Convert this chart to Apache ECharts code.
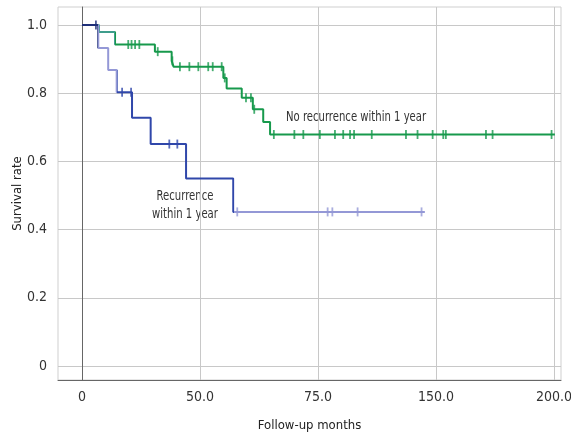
<!DOCTYPE html>
<html>
<head>
<meta charset="utf-8">
<script src="https://cdn.jsdelivr.net/npm/echarts@6/dist/echarts.min.js"></script>
<style>
html,body{margin:0;padding:0;background:#fff;}
#c{width:571px;height:436px;}
</style>
</head>
<body>
<div id="c"></div>
<script>
// ---- data ----
const xTickValues = [0, 50, 100, 150, 200];
const xTickLabels = ['0', '50.0', '75.0', '150.0', '200.0'];
const yTickValues = [0, 0.2, 0.4, 0.6, 0.8, 1.0];
const yTickLabels = ['0', '0.2', '0.4', '0.6', '0.8', '1.0'];

// No recurrence within 1 year (Kaplan-Meier steps)
const noRecTimes = [0, 7.2, 14.0, 30.9, 38.0, 38.8, 59.9, 61.3, 67.7, 72.4, 76.8, 79.7];
const noRecSurv  = [1.0, 0.98, 0.943, 0.922, 0.895, 0.878, 0.845, 0.814, 0.787, 0.753, 0.716, 0.679];
const noRecEnd = 200.4;
const noRecCensor = [19.6, 21.0, 22.5, 24.3, 32.1, 38.3, 41.5, 45.5, 49.3, 53.5, 55.4, 59.2, 60.5,
  69.5, 71.6, 73.0, 81.3, 90.0, 93.8, 100.8, 107.2, 110.7, 113.6, 115.3, 122.8,
  137.3, 142.2, 148.6, 153.1, 154.2, 171.2, 174.0, 199.0];

// Recurrence within 1 year
const recTimes = [0, 6.9, 11.1, 14.7, 21.2, 29.1, 44.1, 64.1];
const recSurv  = [1.0, 0.933, 0.868, 0.803, 0.728, 0.651, 0.55, 0.452];
const recEnd = 145.3;
const recCensor = [5.9, 17.0, 20.8, 37.0, 40.4, 65.8, 104.1, 106.1, 116.8, 143.9];

// ---- helpers ----
function stepData(times, surv, end) {
  const d = times.map((t, i) => [t, surv[i]]);
  d.push([end, surv[surv.length - 1]]);
  return d;
}
function survAt(times, surv, t) {
  let s = surv[0];
  for (let i = 0; i < times.length; i++) if (times[i] <= t) s = surv[i];
  return s;
}
function censorData(times, surv, cens) {
  return cens.map(t => [t, survAt(times, surv, t)]);
}
function labelFor(vals, labels, v) {
  for (let i = 0; i < vals.length; i++) if (Math.abs(vals[i] - v) < 1e-6) return labels[i];
  return '';
}

const FONT = "'DejaVu Sans Condensed', 'Liberation Sans', sans-serif";
const GREEN = '#17994c', TEAL = '#3f9d8c';
const NAVY = '#1f2f78', MBLUE = '#3047aa', LAV = '#9498d6';

const chart = echarts.init(document.getElementById('c'), null, {renderer: 'canvas'});
chart.setOption({
  animation: false,
  backgroundColor: '#fff',
  textStyle: {fontFamily: FONT},
  grid: {left: 58, right: 10, top: 7, bottom: 56, show: true, borderColor: '#cfcfcf', borderWidth: 1,
    containLabel: false, outerBoundsMode: 'none'},
  xAxis: {
    type: 'value', min: -10.17, max: 203,
    axisLine: {show: true, onZero: false, lineStyle: {color: '#666', width: 1}},
    axisTick: {show: false, customValues: xTickValues},
    axisLabel: {customValues: xTickValues, formatter: v => labelFor(xTickValues, xTickLabels, v),
      fontSize: 14, color: '#333', margin: 10, fontFamily: FONT},
    splitLine: {show: true, lineStyle: {color: '#c8c8c8', width: 1}},
    name: 'Follow-up months', nameLocation: 'middle', nameGap: 39, nameMoveOverlap: false,
    nameTextStyle: {fontSize: 13, color: '#222', fontFamily: FONT}
  },
  yAxis: {
    type: 'value', min: -0.041, max: 1.053,
    axisLine: {show: true, lineStyle: {color: '#666', width: 1}},
    axisTick: {show: false, customValues: yTickValues},
    axisLabel: {customValues: yTickValues, formatter: v => labelFor(yTickValues, yTickLabels, v),
      fontSize: 14, color: '#333', margin: 11, fontFamily: FONT},
    splitLine: {show: true, lineStyle: {color: '#c8c8c8', width: 1}},
    name: 'Survival rate', nameLocation: 'middle', nameGap: 34, nameMoveOverlap: false,
    nameTextStyle: {fontSize: 13, color: '#222', fontFamily: FONT}
  },
  visualMap: [
    {type: 'piecewise', show: false, dimension: 0, seriesIndex: [0],
      pieces: [{lt: 7.1, color: GREEN}, {gte: 7.1, lt: 13.9, color: TEAL}, {gte: 13.9, color: GREEN}]},
    {type: 'piecewise', show: false, dimension: 0, seriesIndex: [2, 3],
      pieces: [{lt: 6.85, color: NAVY}, {gte: 6.85, lt: 14.8, color: LAV},
               {gte: 14.8, lt: 64.3, color: MBLUE}, {gte: 64.3, color: LAV}]}
  ],
  series: [
    {type: 'line', step: 'end', showSymbol: false, data: stepData(noRecTimes, noRecSurv, noRecEnd),
      lineStyle: {width: 2}, z: 2},
    {type: 'scatter', symbol: 'rect', symbolSize: [1.8, 9], data: censorData(noRecTimes, noRecSurv, noRecCensor),
      itemStyle: {color: GREEN}, z: 3},
    {type: 'line', step: 'end', showSymbol: false, data: stepData(recTimes, recSurv, recEnd),
      lineStyle: {width: 2}, z: 4},
    {type: 'scatter', symbol: 'rect', symbolSize: [1.8, 9], data: censorData(recTimes, recSurv, recCensor),
      z: 5}
  ],
  graphic: [
    {type: 'text', x: 286, y: 117, scaleX: 0.8, style: {text: 'No recurrence within 1 year', fontSize: 14,
      fill: '#333', fontFamily: FONT, align: 'left', verticalAlign: 'middle'}},
    {type: 'text', x: 185, y: 205, scaleX: 0.8, style: {text: 'Recurrence\nwithin 1 year', fontSize: 14,
      fill: '#333', fontFamily: FONT, align: 'center', verticalAlign: 'middle', lineHeight: 18}}
  ]
});
</script>
</body>
</html>
